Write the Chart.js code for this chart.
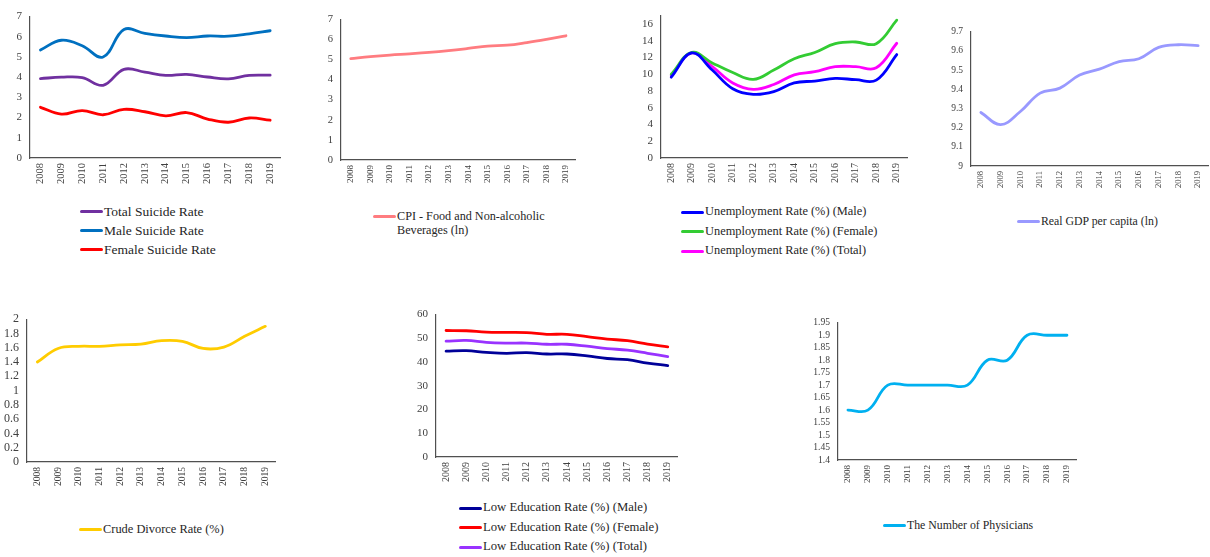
<!DOCTYPE html>
<html>
<head>
<meta charset="utf-8">
<script src="https://cdn.jsdelivr.net/npm/chart.js@4.4.1/dist/chart.umd.min.js"></script>
<style>
  html, body { margin:0; padding:0; background:#fff; }
  #page { position:relative; width:1210px; height:557px; overflow:hidden; background:#fff; }
  .box { position:absolute; }
  .box canvas { display:block; }
  .leg { position:absolute; font-family:'Liberation Serif','Times New Roman',serif; color:#262626; white-space:nowrap; }
  .leg .mk { position:absolute; left:0; height:3px; width:23px; border-radius:1.5px; }
  .leg .tx { position:absolute; }
</style>
</head>
<body>
<div id="page"></div>
<script>
// ---------------- DATA ----------------
const years = ['2008','2009','2010','2011','2012','2013','2014','2015','2016','2017','2018','2019'];

const totalSuicideRate  = [3.93, 4.00, 3.98, 3.60, 4.39, 4.25, 4.09, 4.14, 4.01, 3.92, 4.09, 4.10];
const maleSuicideRate   = [5.35, 5.83, 5.56, 5.00, 6.36, 6.17, 6.04, 5.96, 6.04, 6.03, 6.15, 6.30];
const femaleSuicideRate = [2.51, 2.17, 2.35, 2.14, 2.41, 2.29, 2.09, 2.25, 1.93, 1.77, 1.98, 1.87];

const cpiFood = [5.04, 5.14, 5.22, 5.28, 5.35, 5.44, 5.55, 5.67, 5.71, 5.84, 6.00, 6.18];

const unempMale   = [9.65, 12.54, 10.50, 8.27, 7.60, 7.92, 8.96, 9.19, 9.50, 9.35, 9.30, 12.35];
const unempFemale = [10.00, 12.60, 11.35, 10.20, 9.38, 10.50, 11.85, 12.60, 13.65, 13.85, 13.65, 16.46];
const unempTotal  = [9.80, 12.54, 10.90, 8.96, 8.20, 8.77, 9.92, 10.30, 10.90, 10.90, 10.77, 13.70];

const realGdpPerCapita = [9.279, 9.216, 9.284, 9.380, 9.406, 9.474, 9.505, 9.544, 9.559, 9.618, 9.632, 9.627];

const crudeDivorceRate = [1.40, 1.59, 1.62, 1.62, 1.64, 1.65, 1.70, 1.69, 1.59, 1.61, 1.76, 1.90];

const lowEduMale   = [44.6, 44.8, 44.1, 43.7, 44.0, 43.4, 43.4, 42.6, 41.5, 41.0, 39.6, 38.5];
const lowEduFemale = [53.3, 53.2, 52.6, 52.5, 52.4, 51.7, 51.7, 50.7, 49.7, 49.0, 47.6, 46.4];
const lowEduTotal  = [48.8, 49.1, 48.3, 48.0, 48.0, 47.5, 47.5, 46.7, 45.7, 45.0, 43.7, 42.3];

const physicians = [1.60, 1.60, 1.70, 1.70, 1.70, 1.70, 1.70, 1.80, 1.80, 1.90, 1.90, 1.90];

// tick values per panel
const ticksSuicide = [0,1,2,3,4,5,6,7];
const ticksCpi     = [0,1,2,3,4,5,6,7];
const ticksUnemp   = [0,2,4,6,8,10,12,14,16];
const ticksGdp     = [9,9.1,9.2,9.3,9.4,9.5,9.6,9.7];
const ticksDivorce = [0,0.2,0.4,0.6,0.8,1,1.2,1.4,1.6,1.8,2];
const ticksEdu     = [0,10,20,30,40,50,60];
const ticksPhys    = [1.4,1.45,1.5,1.55,1.6,1.65,1.7,1.75,1.8,1.85,1.9,1.95];

// ---------------- PANELS ----------------
const panels = [
  { area:{l:30, r:282, t:12, b:158}, min:0, max:7, ticks:ticksSuicide, yf:11, xf:10.5,
    series:[['Total Suicide Rate', totalSuicideRate, '#7030A0'],
            ['Male Suicide Rate', maleSuicideRate, '#0070C0'],
            ['Female Suicide Rate', femaleSuicideRate, '#FF0000']],
    legend:{x:80, y:211, fs:13.5, gap:19, w:null} },
  { area:{l:341, r:576, t:15, b:160}, min:0, max:7, ticks:ticksCpi, yf:10.5, xf:9,
    series:[['CPI - Food and Non-alcoholic Beverages (ln)', cpiFood, '#FF7C80']],
    legend:{x:373, y:216, fs:12.2, gap:19, w:165} },
  { area:{l:661, r:908, t:11, b:158}, min:0, max:17, ticks:ticksUnemp, yf:11, xf:10,
    series:[['Unemployment Rate (%) (Male)', unempMale, '#0000FF'],
            ['Unemployment Rate (%) (Female)', unempFemale, '#33CC33'],
            ['Unemployment Rate (%) (Total)', unempTotal, '#FF00FF']],
    legend:{x:681, y:212, fs:12.4, gap:19.5, w:null} },
  { area:{l:971, r:1208, t:28, b:166}, min:9, max:9.7, ticks:ticksGdp, yf:9.5, xf:8.5,
    series:[['Real GDP per capita (ln)', realGdpPerCapita, '#9999FF']],
    legend:{x:1017, y:221, fs:11.8, gap:19, w:null} },
  { area:{l:27, r:276, t:314, b:462}, min:0, max:2, ticks:ticksDivorce, yf:12, xf:9.5,
    series:[['Crude Divorce Rate (%)', crudeDivorceRate, '#FFCC00']],
    legend:{x:79, y:529, fs:12.4, gap:19, w:null} },
  { area:{l:436, r:679, t:310, b:457}, min:0, max:60, ticks:ticksEdu, yf:11, xf:10,
    series:[['Low Education Rate (%) (Male)', lowEduMale, '#000099'],
            ['Low Education Rate (%) (Female)', lowEduFemale, '#FF0000'],
            ['Low Education Rate (%) (Total)', lowEduTotal, '#9933FF']],
    legend:{x:459, y:508, fs:12.7, gap:19.5, w:null} },
  { area:{l:838, r:1077, t:319, b:460}, min:1.4, max:1.95, ticks:ticksPhys, yf:9.6, xf:9,
    series:[['The Number of Physicians', physicians, '#00B0F0']],
    legend:{x:883, y:525, fs:11.8, gap:19, w:null} }
];

const FONT = "'Liberation Serif', 'Times New Roman', serif";
const AX = '#505050';
const TK = '#404040';
const page = document.getElementById('page');
const YW = 42, PADT = 10, PADR = 6, XH = 32;

Chart.defaults.font.family = FONT;

function build() {
panels.forEach((p, idx) => {
  const a = p.area;
  const w = (a.r - a.l) + YW + PADR;
  const h = (a.b - a.t) + PADT + XH;
  const box = document.createElement('div');
  box.className = 'box';
  box.style.left = (a.l - YW) + 'px';
  box.style.top = (a.t - PADT) + 'px';
  box.style.width = w + 'px';
  box.style.height = h + 'px';
  const cv = document.createElement('canvas');
  cv.width = w; cv.height = h;
  cv.style.width = w + 'px'; cv.style.height = h + 'px';
  box.appendChild(cv);
  page.appendChild(box);

  new Chart(cv, {
    type: 'line',
    data: {
      labels: years,
      datasets: p.series.map(s => ({
        label: s[0], data: s[1], borderColor: s[2], backgroundColor: s[2],
        borderWidth: 2.8, pointRadius: 0, tension: 0.4, fill: false,
        borderCapStyle: 'round'
      }))
    },
    options: {
      responsive: false, maintainAspectRatio: false, animation: false,
      devicePixelRatio: 1,
      layout: { padding: { top: PADT, right: PADR, left: 0, bottom: 0 } },
      plugins: { legend: { display: false }, tooltip: { enabled: false } },
      scales: {
        x: {
          offset: true,
          grid: { display: false, drawTicks: false },
          border: { display: true, color: AX, width: 1.2 },
          ticks: { autoSkip: false, minRotation: 90, maxRotation: 90, padding: 5,
                   color: TK, font: { family: FONT, size: p.xf } },
          afterFit: s => { s.height = XH; }
        },
        y: {
          min: p.min, max: p.max,
          grid: { display: false, drawTicks: false },
          border: { display: true, color: AX, width: 1.2 },
          ticks: { autoSkip: false, padding: 8, color: TK, font: { family: FONT, size: p.yf },
                   callback: v => String(+Number(v).toFixed(2)) },
          afterBuildTicks: s => { s.ticks = p.ticks.map(v => ({ value: v })); },
          afterFit: s => { s.width = YW; }
        }
      }
    }
  });

  // legend (real text)
  const L = p.legend;
  p.series.forEach((s, i) => {
    const lg = document.createElement('div');
    lg.className = 'leg';
    lg.style.fontSize = L.fs + 'px';
    lg.style.lineHeight = L.gap + 'px';
    lg.style.left = L.x + 'px';
    lg.style.top = (L.y - L.gap / 2 + i * L.gap) + 'px';
    const mk = document.createElement('span');
    mk.className = 'mk';
    mk.style.background = s[2];
    mk.style.top = (L.gap / 2 - 1.5) + 'px';
    const tx = document.createElement('span');
    tx.className = 'tx';
    tx.style.left = '24px';
    tx.textContent = s[0];
    if (L.w) {
      tx.style.whiteSpace = 'normal';
      tx.style.width = L.w + 'px';
      tx.style.lineHeight = '14.5px';
      tx.style.top = ((L.gap - 14.5) / 2) + 'px';
    }
    lg.appendChild(mk);
    lg.appendChild(tx);
    page.appendChild(lg);
  });
});
}

if (document.fonts && document.fonts.load) {
  Promise.all([document.fonts.load("11px 'Liberation Serif'"), document.fonts.load("13px 'Liberation Serif'")])
    .then(build, build);
} else { build(); }
</script>
</body>
</html>
